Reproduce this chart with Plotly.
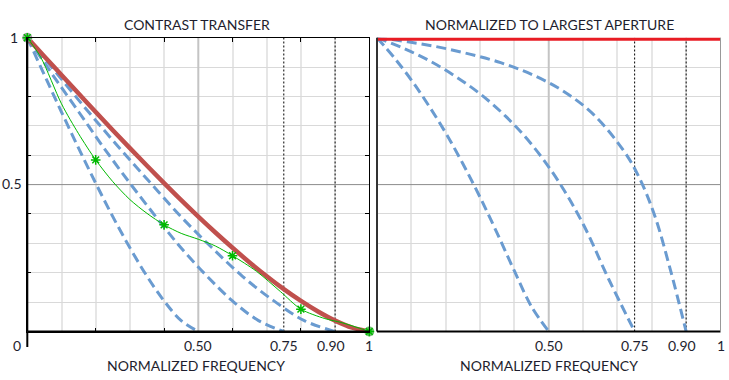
import plotly.graph_objects as go

# ---------------- data ----------------
freq_full = [0, 0.05, 0.10, 0.15, 0.20, 0.25, 0.30, 0.35, 0.40, 0.45, 0.50,
             0.55, 0.60, 0.65, 0.70, 0.75, 0.80, 0.85, 0.90, 0.95, 1.00]
mtf_full = [1.000, 0.936, 0.873, 0.810, 0.747, 0.685, 0.624, 0.564, 0.505, 0.447, 0.391,
            0.337, 0.285, 0.235, 0.188, 0.144, 0.104, 0.068, 0.037, 0.013, 0.000]

ap50_x = [0, 0.05, 0.10, 0.15, 0.20, 0.25, 0.30, 0.35, 0.40, 0.45, 0.50]
ap50_y = [1.000, 0.873, 0.747, 0.624, 0.505, 0.391, 0.285, 0.188, 0.104, 0.037, 0.000]
ap75_x = [0, 0.075, 0.15, 0.225, 0.30, 0.375, 0.45, 0.525, 0.60, 0.675, 0.75]
ap75_y = [1.000, 0.872, 0.748, 0.623, 0.505, 0.392, 0.284, 0.189, 0.104, 0.038, 0.000]
ap90_x = [0, 0.09, 0.18, 0.27, 0.36, 0.45, 0.54, 0.63, 0.72, 0.81, 0.90]
ap90_y = [1.000, 0.873, 0.746, 0.624, 0.506, 0.390, 0.285, 0.187, 0.105, 0.037, 0.000]

meas_x = [0, 0.04, 0.10, 0.15, 0.20, 0.25, 0.30, 0.35, 0.40, 0.45, 0.50, 0.55,
          0.60, 0.67, 0.74, 0.80, 0.87, 0.92, 1.0]
meas_y = [1.000, 0.932, 0.775, 0.673, 0.584, 0.510, 0.449, 0.402, 0.363, 0.334, 0.314, 0.291,
          0.258, 0.205, 0.136, 0.076, 0.044, 0.030, 0.000]
samp_x = [0, 0.2, 0.4, 0.6, 0.8, 1.0]
samp_y = [1.000, 0.584, 0.363, 0.258, 0.076, 0.000]
end_x = [0, 1.0]
end_y = [1.0, 0.0]

ratio_full_x = [0, 1.0]
ratio_full_y = [1.0, 1.0]
r50_x = [0, 0.05, 0.10, 0.15, 0.20, 0.25, 0.30, 0.35, 0.40, 0.45, 0.50]
r50_y = [1.000, 0.932, 0.856, 0.770, 0.676, 0.571, 0.457, 0.334, 0.206, 0.084, 0.000]
r75_x = [0, 0.075, 0.15, 0.225, 0.30, 0.375, 0.45, 0.525, 0.60, 0.675, 0.75]
r75_y = [1.000, 0.965, 0.923, 0.871, 0.809, 0.732, 0.637, 0.517, 0.366, 0.177, 0.000]
r90_x = [0, 0.09, 0.18, 0.27, 0.36, 0.45, 0.54, 0.63, 0.72, 0.765, 0.81, 0.855, 0.90]
r90_y = [1.000, 0.986, 0.968, 0.944, 0.915, 0.875, 0.820, 0.739, 0.612, 0.520, 0.389, 0.206, 0.000]

marker_freqs = [0.75, 0.90]
mid_val = 0.5
grid_vals = [0.1, 0.2, 0.3, 0.4, 0.6, 0.7, 0.8, 0.9]
minor_ticks = [0.2, 0.4, 0.6, 0.8]
x_labels = [(0.5, "0.50"), (0.75, "0.75"), (0.90, "0.90"), (1.0, "1")]

# ---------------- styling ----------------
W, H = 729, 380
BLUE = "rgb(106,155,208)"
RED_L = "rgb(192,80,77)"
RED_R = "rgb(232,28,36)"
GREEN = "rgb(0,185,0)"
TXT = "#1e1e2e"
FONT = "Lato"

def px_x(p):
    return p / W

def px_y(p):
    return 1 - p / H

xl_dom = [px_x(27.3), px_x(369.3)]
xr_dom = [px_x(377.0), px_x(720.5)]
y_dom = [px_y(331.5), px_y(37.7)]

fig = go.Figure()
dash = "10px,5px"

def ref_lines(xa, ya):
    # darker mid grid lines and dotted reference lines (drawn as traces, under the curves)
    fig.add_trace(go.Scatter(x=[mid_val, mid_val], y=[0, 1], xaxis=xa, yaxis=ya, mode="lines",
                             line=dict(color="#c4c4c4", width=2),
                             hoverinfo="skip", showlegend=False))
    fig.add_trace(go.Scatter(x=[0, 1], y=[mid_val, mid_val], xaxis=xa, yaxis=ya, mode="lines",
                             line=dict(color="#8c8c8c", width=1),
                             hoverinfo="skip", showlegend=False))
    for f in marker_freqs:
        fig.add_trace(go.Scatter(x=[f, f], y=[0, 1], xaxis=xa, yaxis=ya, mode="lines",
                                 line=dict(color="black", width=1, dash="2px,2px"),
                                 hoverinfo="skip", showlegend=False))

ref_lines("x", "y")
for xs, ys in [(ap50_x, ap50_y), (ap75_x, ap75_y), (ap90_x, ap90_y)]:
    fig.add_trace(go.Scatter(x=xs, y=ys, xaxis="x", yaxis="y", mode="lines",
                             line=dict(color=BLUE, width=3, dash=dash, shape="spline"),
                             hoverinfo="skip", showlegend=False))
fig.add_trace(go.Scatter(x=freq_full, y=mtf_full, xaxis="x", yaxis="y", mode="lines",
                         line=dict(color=RED_L, width=4.5, shape="spline"),
                         hoverinfo="skip", showlegend=False))
fig.add_trace(go.Scatter(x=end_x, y=end_y, xaxis="x", yaxis="y", mode="markers",
                         marker=dict(color=["rgb(165,165,165)", "rgb(120,190,120)"], size=10),
                         cliponaxis=False, hoverinfo="skip", showlegend=False))
fig.add_trace(go.Scatter(x=meas_x, y=meas_y, xaxis="x", yaxis="y", mode="lines",
                         line=dict(color=GREEN, width=1, shape="spline", smoothing=0.8),
                         hoverinfo="skip", showlegend=False))
fig.add_trace(go.Scatter(x=samp_x, y=samp_y, xaxis="x", yaxis="y", mode="markers",
                         marker=dict(symbol="asterisk-open", size=8, color=GREEN,
                                     line=dict(color=GREEN, width=1.5)),
                         cliponaxis=False, hoverinfo="skip", showlegend=False))

ref_lines("x2", "y2")
for xs, ys in [(r50_x, r50_y), (r75_x, r75_y), (r90_x, r90_y)]:
    fig.add_trace(go.Scatter(x=xs, y=ys, xaxis="x2", yaxis="y2", mode="lines",
                             line=dict(color=BLUE, width=3, dash=dash, shape="spline"),
                             hoverinfo="skip", showlegend=False))
fig.add_trace(go.Scatter(x=ratio_full_x, y=ratio_full_y, xaxis="x2", yaxis="y2", mode="lines",
                         line=dict(color=RED_R, width=6),
                         hoverinfo="skip", showlegend=False))

common_x = dict(range=[0, 1], tickmode="array", tickvals=grid_vals, showticklabels=False,
                ticks="", showgrid=True, gridcolor="#e6e6e6", gridwidth=2, zeroline=False,
                fixedrange=True)
common_y = dict(range=[0, 1], tickmode="array", tickvals=grid_vals, showticklabels=False,
                ticks="", showgrid=True, gridcolor="#d9d9d9", gridwidth=1, zeroline=False,
                fixedrange=True)

fig.update_layout(
    width=W, height=H, margin=dict(l=0, r=0, t=0, b=0),
    paper_bgcolor="white", plot_bgcolor="white", showlegend=False,
    font=dict(family=FONT, size=14, color=TXT),
    xaxis=dict(domain=xl_dom, anchor="y", showline=True, linecolor="black", linewidth=1,
               mirror="ticks",
               minor=dict(tickmode="array", tickvals=minor_ticks, ticks="inside", ticklen=4,
                          tickcolor="black", tickwidth=1, showgrid=False),
               **common_x),
    yaxis=dict(domain=y_dom, anchor="x", showline=True, linecolor="black", linewidth=1,
               mirror="ticks",
               minor=dict(tickmode="array", tickvals=minor_ticks, ticks="inside", ticklen=4,
                          tickcolor="black", tickwidth=1, showgrid=False),
               **common_y),
    xaxis2=dict(domain=xr_dom, anchor="y2", showline=False, **common_x),
    yaxis2=dict(domain=y_dom, anchor="x2", showline=False, **common_y),
)

# borders
shapes = [
    dict(type="line", xref="x domain", yref="y domain", x0=0, x1=0, y0=0, y1=1,
         line=dict(color="black", width=2)),
    dict(type="line", xref="x domain", yref="y domain", x0=0, x1=1, y0=0, y1=0,
         line=dict(color="black", width=2)),
    dict(type="line", xref="x domain", yref="paper", x0=0, x1=0, y0=px_y(347), y1=y_dom[0],
         line=dict(color="black", width=2)),
    dict(type="line", xref="x2 domain", yref="y2 domain", x0=0, x1=0, y0=0, y1=1,
         line=dict(color="#333333", width=2)),
    dict(type="line", xref="x2 domain", yref="y2 domain", x0=0, x1=1, y0=0, y1=0,
         line=dict(color="black", width=2)),
    dict(type="line", xref="x2 domain", yref="y2 domain", x0=1, x1=1, y0=0, y1=1,
         line=dict(color="#999999", width=1)),
]
fig.update_layout(shapes=shapes)

ann = []
def add_text(text, x, y, xref="paper", xshift=0, size=14, anchor="center"):
    ann.append(dict(text=text, x=x, y=y, xref=xref, yref="paper", showarrow=False,
                    xanchor=anchor, yanchor="middle", xshift=xshift,
                    font=dict(family=FONT, size=size, color=TXT)))

add_text("CONTRAST TRANSFER", px_x(197), px_y(25))
add_text("NORMALIZED TO LARGEST APERTURE", px_x(549), px_y(25))
add_text("NORMALIZED FREQUENCY", px_x(196), px_y(365))
add_text("NORMALIZED FREQUENCY", px_x(549), px_y(365))
add_text("1", px_x(14), px_y(38))
add_text("0.5", px_x(12), px_y(184))
add_text("0", px_x(16.5), px_y(345))
for xr in ["x", "x2"]:
    for v, t in x_labels:
        add_text(t, v, px_y(345), xref=xr, xshift=(-4 if v == 0.9 else 0))
fig.update_layout(annotations=ann)

fig.write_html("out.html", config={"displayModeBar": False},
               post_script="document.body.style.margin='0';document.body.style.padding='0';")
